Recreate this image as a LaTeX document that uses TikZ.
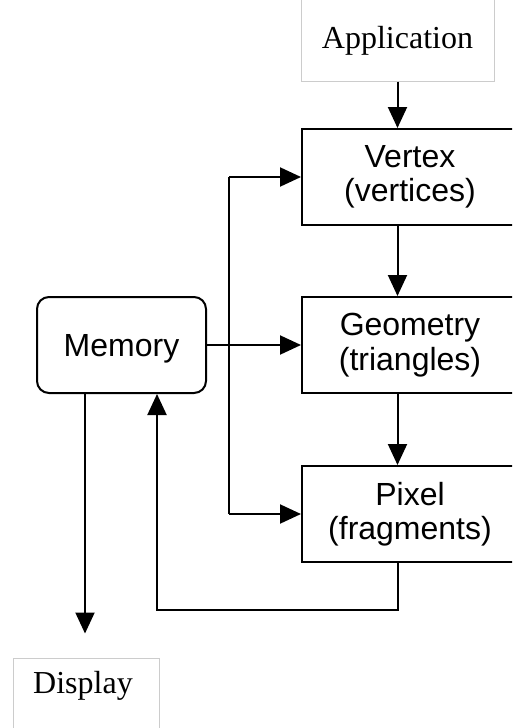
\documentclass[tikz,border=0pt]{standalone}
\usepackage{fontspec}
\setmainfont{Liberation Serif}
\setsansfont{Liberation Sans}
\usetikzlibrary{arrows.meta,calc}
\tikzset{
  stagebox/.style={draw=black,line width=2pt,minimum width=216pt,minimum height=96pt,
    inner sep=0pt,align=center,font=\sffamily\fontsize{32}{34.5}\selectfont},
  membox/.style={draw=black,line width=2pt,rounded corners=12pt,minimum width=169pt,
    minimum height=96pt,inner sep=0pt,text height=22pt,text depth=0pt,
    font=\sffamily\fontsize{32}{34.5}\selectfont},
  graybox/.style={draw=black!20,line width=1pt,inner sep=0pt,
    font=\rmfamily\fontsize{32}{36}\selectfont},
  conn/.style={line width=2pt,draw=black},
  arr/.style={conn,-{Triangle[length=21pt,width=19pt]}},
}
\begin{document}
\begin{tikzpicture}[x=1pt,y=-1pt]
\useasboundingbox (0,0) rectangle (512,728);
\clip (0,0) rectangle (512,728);
\fill[white] (0,0) rectangle (512,728);

\node[graybox,minimum width=193pt,minimum height=91pt,text height=25pt,text depth=0pt]
  (app) at (397.5,35.5) {Application};
\node[stagebox] (vertex) at (410,177) {Vertex\\(vertices)};
\node[stagebox] (geo) at (410,345) {Geometry\\(triangles)};
\node[stagebox] (pixel) at (410,514) {Pixel\\(fragments)};
\node[membox] (mem) at (121.5,345) {Memory};
\node[graybox,minimum width=146pt,minimum height=74pt,text height=22pt,text depth=26pt]
  (display) at (86,695) {\hspace*{-6pt}Display};

\coordinate (bus) at (229,345);
\coordinate (fb) at (157,610);
\coordinate (out) at (85,650);

% main column
\draw[arr] (app.south) -- (app.south |- vertex.north);
\draw[arr] (vertex.south -| app.south) -- (geo.north -| app.south);
\draw[arr] (geo.south -| app.south) -- (pixel.north -| app.south);

% memory fan-out
\draw[arr] (mem.east) -- (geo.west);
\draw[conn] (vertex.west -| bus) -- (pixel.west -| bus);
\draw[arr] (vertex.west -| bus) -- (vertex.west);
\draw[arr] (pixel.west -| bus) -- (pixel.west);

% feedback pixel -> memory
\draw[arr] (pixel.south -| app.south) |- (fb) -- (fb |- mem.south);

% memory -> display
\draw[arr,shorten >=24pt] (mem.south -| out) -- (display.north -| out);
\end{tikzpicture}
\end{document}
